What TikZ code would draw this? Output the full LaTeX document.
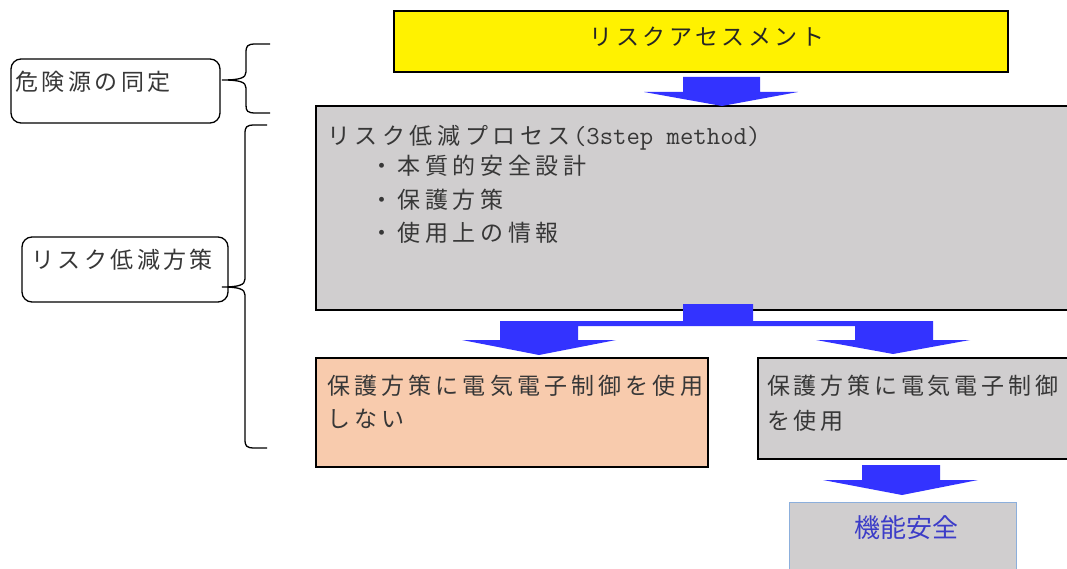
\documentclass[tikz,border=0pt]{standalone}
\usepackage{fontspec}
\newfontfamily\jpA[LetterSpace=15]{Noto Sans CJK JP}
\newfontfamily\jpR[LetterSpace=16.5]{Noto Sans CJK JP}
\newfontfamily\jpB[LetterSpace=20]{Noto Sans CJK JP}
\newfontfamily\jpC[LetterSpace=18]{Noto Sans CJK JP}
\newfontfamily\jpN{Noto Sans CJK JP}
\definecolor{boxgray}{RGB}{208,206,207}
\definecolor{orng}{RGB}{248,203,173}
\definecolor{arrblue}{RGB}{51,51,255}
\definecolor{txt}{RGB}{55,55,55}
\definecolor{fsblue}{RGB}{60,60,200}
\definecolor{fsedge}{RGB}{140,175,220}
\begin{document}
\begin{tikzpicture}[x=1pt,y=-1pt,
  box/.style={draw=black, line width=1.6pt, inner sep=0pt},
  rbox/.style={draw=black, line width=1.3pt, rounded corners=10pt, inner sep=0pt},
  arr/.style={fill=arrblue, draw=none},
  lblA/.style={inner sep=0pt, anchor=base west, text=txt, font=\jpA\fontsize{23}{23}\selectfont},
  lblR/.style={inner sep=0pt, anchor=base west, text=txt, font=\jpR\fontsize{23}{23}\selectfont},
  lblB/.style={inner sep=0pt, anchor=base west, text=txt, font=\jpB\fontsize{23}{23}\selectfont},
  lblC/.style={inner sep=0pt, anchor=base west, text=txt, font=\jpC\fontsize{23}{23}\selectfont},
  brace/.style={draw=black, line width=1.3pt}]
\useasboundingbox (0,0) rectangle (1067,569);
\clip (0,0) rectangle (1067,569);
\fill[white] (0,0) rectangle (1067,569);

% boxes
\node[box, fill=yellow, minimum width=614pt, minimum height=61pt] (ra) at (701,41.5) {};
\node[box, fill=boxgray, minimum width=764pt, minimum height=204pt] (rr) at (698,208) {};
\node[box, fill=orng, minimum width=392pt, minimum height=109pt] (no) at (512,412.5) {};
\node[box, fill=boxgray, minimum width=322pt, minimum height=101pt] (yes) at (919,408.5) {};
\node[draw=fsedge, line width=1pt, fill=boxgray, inner sep=0pt, minimum width=227pt, minimum height=88pt] (fs) at (902.5,546) {};
\node[rbox, minimum width=209pt, minimum height=64pt] (hz) at (115.5,91) {};
\node[rbox, minimum width=206pt, minimum height=65pt] (rm) at (125,269.5) {};

% texts
\node[inner sep=0pt, anchor=base, text=black!85, font=\jpA\fontsize{23}{23}\selectfont] (t_ra) at (707,46) {リスクアセスメント};
\node[lblA] (t_hz) at (15,91) {危険源の同定};
\node[lblA] (t_rm) at (31,268) {リスク低減方策};
\node[lblB] (t_g1) at (327,145) {リスク低減プロセス\hspace{2pt}\ttfamily\fontsize{26}{26}\selectfont(3step method)};
\node[lblB] (t_g2) at (370,175) {・本質的安全設計};
\node[lblB] (t_g3) at (370,209) {・保護方策};
\node[lblB] (t_g4) at (370,242) {・使用上の情報};
\node[lblC] (t_o1) at (327,394) {保護方策に電気電子制御を使用};
\node[lblC] (t_o2) at (327,427) {しない};
\node[lblR] (t_y1) at (767,394) {保護方策に電気電子制御};
\node[lblR] (t_y2) at (767,429) {を使用};
\node[inner sep=0pt, text=fsblue, font=\jpN\fontsize{26}{26}\selectfont] (t_fs) at (906,528) {機能安全};

% braces
\draw[brace] (270,44) -- (256,44) .. controls (247,44) and (246,46) .. (246,53) -- (246,72)
  .. controls (246,78) and (240,80) .. (222,80)
  .. controls (240,80) and (246,82) .. (246,88) -- (246,105)
  .. controls (246,111) and (247,113) .. (256,113) -- (270,113);
\draw[brace] (267,125) -- (255,125) .. controls (246,125) and (245,127) .. (245,134) -- (245,279)
  .. controls (245,285) and (239,287) .. (222,287)
  .. controls (239,287) and (245,289) .. (245,295) -- (245,439)
  .. controls (245,446) and (246,448) .. (255,448) -- (267,448);

% block arrows
\fill[arr] (683,77) -- (760,77) -- (760,92) -- (798,92) -- (722,106) -- (644,92) -- (683,92) -- cycle;
\fill[arr] (683,304) -- (753,304) -- (753,321) -- (933,321) -- (933,340) -- (970,340) -- (893,354)
  -- (816,340) -- (855,340) -- (855,326) -- (578,326) -- (578,340) -- (616,340) -- (539,355)
  -- (462,340) -- (500,340) -- (500,321) -- (683,321) -- cycle;
\fill[arr] (862,465) -- (940,465) -- (940,480) -- (978,480) -- (902,495) -- (823,480) -- (862,480) -- cycle;
\end{tikzpicture}
\end{document}
